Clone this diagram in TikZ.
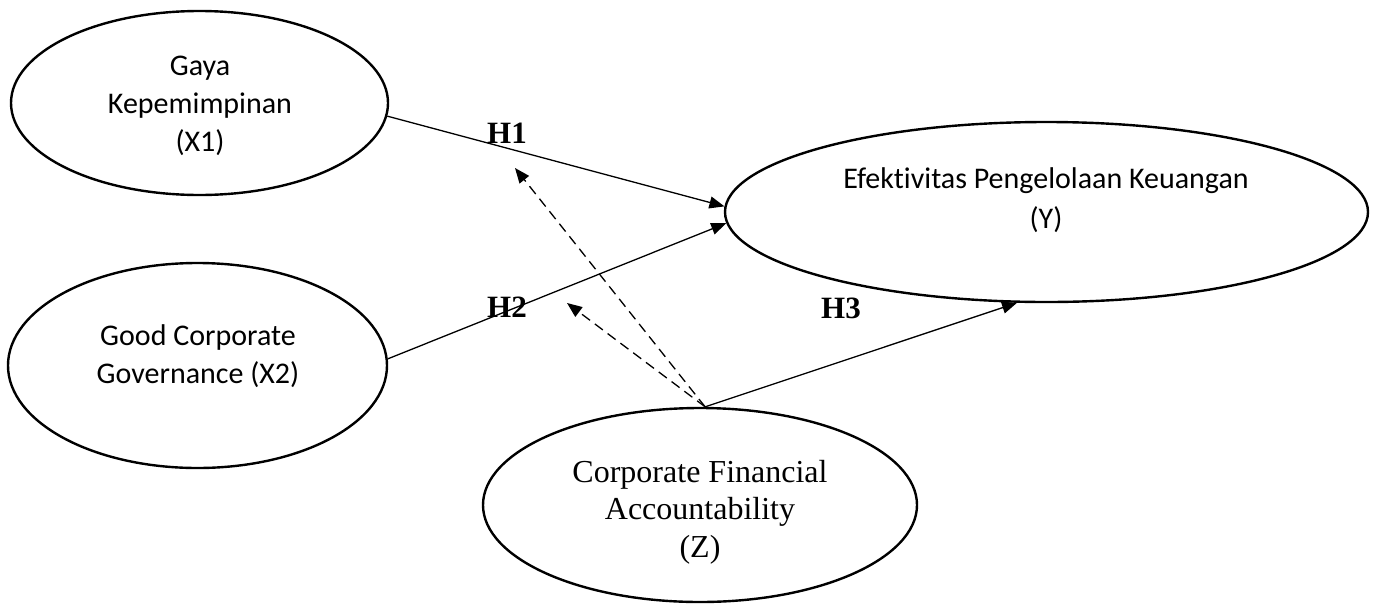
\documentclass[tikz,border=0pt]{standalone}
\usepackage{fontspec}
\setmainfont{Liberation Serif}
\newfontfamily\carlitofont[Ligatures=NoCommon]{Carlito}
\usetikzlibrary{arrows.meta,shapes.geometric}
\tikzset{
  var/.style={draw, ellipse, line width=2.4pt, inner sep=0pt},
  sanslabel/.style={align=center, font=\carlitofont\fontsize{30}{38}\selectfont},
  seriflabel/.style={align=center, font=\fontsize{32}{37.5}\selectfont},
  hyp/.style={font=\bfseries\fontsize{31}{31}\selectfont},
  link/.style={line width=1.3pt, -{Triangle[length=15pt,width=12pt]}},
  modlink/.style={link, dash pattern=on 10pt off 6pt}
}
\begin{document}
\begin{tikzpicture}[x=1pt,y=-1pt]
\useasboundingbox (0,0) rectangle (1376,603);
% ellipses
\node[var, minimum width=377pt, minimum height=184pt] (x1) at (199.5,103) {};
\node[var, minimum width=379pt, minimum height=205pt] (x2) at (197.5,365.5) {};
\node[var, minimum width=643pt, minimum height=180pt] (y) at (1046.5,212) {};
\node[var, minimum width=434pt, minimum height=194pt] (z) at (700,505) {};
% texts
\node[sanslabel] (tx1) at (200,106) {Gaya\\Kepemimpinan\\(X1)};
\node[sanslabel] (tx2) at (198,356) {Good Corporate\\Governance (X2)};
\node[sanslabel, font=\carlitofont\fontsize{30}{40}\selectfont] (ty) at (1046,200) {Efektivitas Pengelolaan Keuangan\\(Y)};
\node[seriflabel] (tz) at (700,512) {Corporate Financial\\Accountability\\(Z)};
% hypothesis labels
\node[hyp] (h1) at (507,133) {H1};
\node[hyp] (h2) at (507,307) {H2};
\node[hyp] (h3) at (841,308) {H3};
% connectors
\coordinate (d1) at (515,168);
\coordinate (d2) at (567,303);
\draw[link] (x1.-4.3) -- (y.179.3);
\draw[link] (x2.2.9) -- (y.182);
\draw[link] (z.87) -- (y.-108);
\draw[modlink] (z.87) -- (d1);
\draw[modlink] (z.87) -- (d2);
\end{tikzpicture}
\end{document}
